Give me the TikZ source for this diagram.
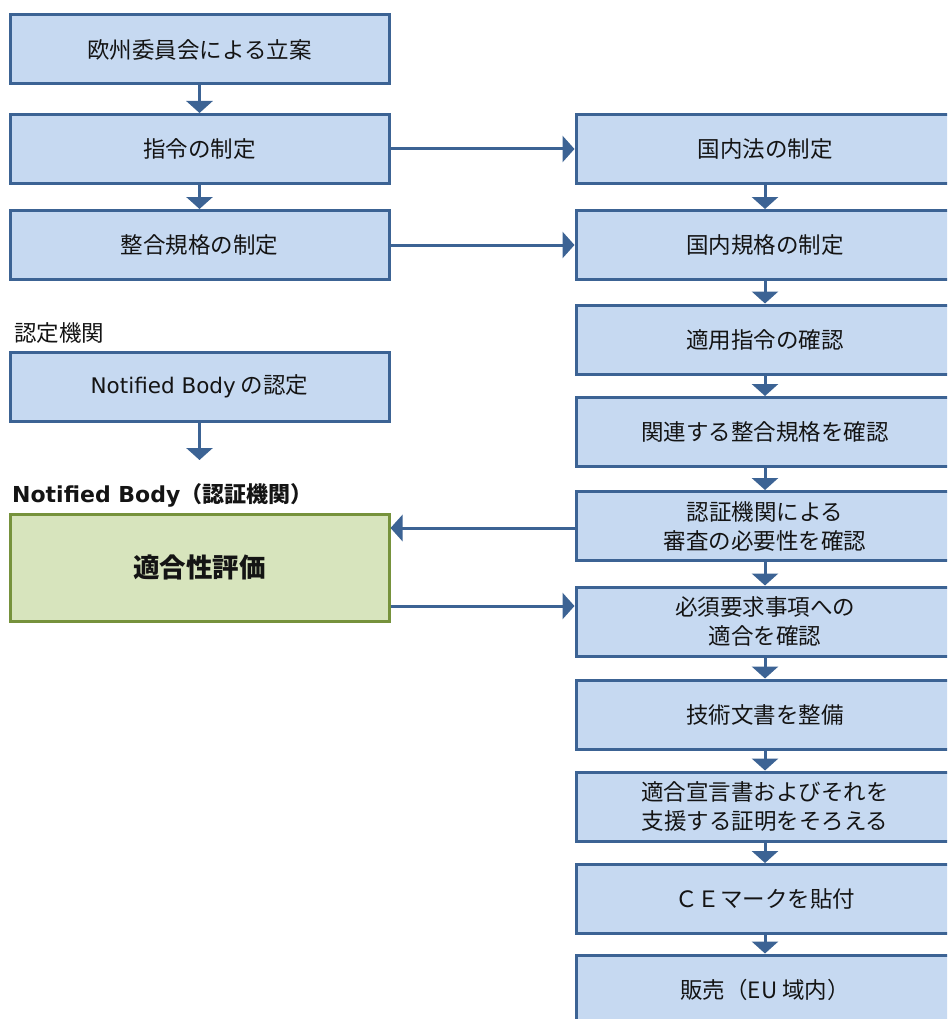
\documentclass[tikz,border=0pt]{standalone}
\usepackage{fontspec}
\setmainfont{Noto Sans CJK JP}
\newfontfamily\latn{DejaVu Sans}
\usetikzlibrary{arrows.meta,calc}
\definecolor{bborder}{RGB}{60,99,148}
\definecolor{bfill}{RGB}{198,217,241}
\definecolor{gborder}{RGB}{118,146,60}
\definecolor{gfill}{RGB}{215,228,189}
\definecolor{txt}{RGB}{20,20,20}
\tikzset{
  box/.style={draw=bborder, fill=bfill, line width=3pt, minimum height=69pt, inner sep=0pt, align=center, text=txt, font=\fontsize{22.5}{29}\selectfont},
  lbox/.style={box, minimum width=379pt},
  rbox/.style={box, minimum width=378pt},
  gbox/.style={box, draw=gborder, fill=gfill, minimum width=379pt, minimum height=107pt, font=\fontsize{26.5}{29}\selectfont\bfseries},
  arr/.style={draw=bborder, line width=3pt, -{Triangle[width=26pt,length=12pt]}},
  lbl/.style={anchor=west, inner sep=0pt, text=txt, font=\fontsize{22.5}{29}\selectfont},
}
\begin{document}
\begin{tikzpicture}[x=1pt,y=-1pt]
\useasboundingbox (0,0) rectangle (947,1019);
\clip (0,0) rectangle (947,1019);
% left column
\node[lbox] (b1) at (199.5,49.5) {欧州委員会による立案};
\node[lbox] (b2) at (199.5,149) {指令の制定};
\node[lbox] (b3) at (199.5,245) {整合規格の制定};
\node[lbl] (l1) at (14,333) {認定機関};
\node[lbox] (b4) at (199.5,386.5) {{\latn\fontsize{21.5}{29}\selectfont Notified Body} の認定};
\coordinate (b4end) at (199.5,460);
\node[lbl, font=\fontsize{22}{29}\selectfont\bfseries] (l2) at (12,495) {{\latn\bfseries Notified Body}（認証機関）};
\node[gbox] (g) at (199.5,567.5) {適合性評価};
% right column
\node[rbox] (r1) at (765,149) {国内法の制定};
\node[rbox] (r2) at (765,245) {国内規格の制定};
\node[rbox] (r3) at (765,339.5) {適用指令の確認};
\node[rbox] (r4) at (765,432) {関連する整合規格を確認};
\node[rbox] (r5) at (765,526) {認証機関による\\審査の必要性を確認};
\node[rbox] (r6) at (765,621.5) {必須要求事項への\\適合を確認};
\node[rbox] (r7) at (765,714.5) {技術文書を整備};
\node[rbox] (r8) at (765,806.5) {適合宣言書およびそれを\\支援する証明をそろえる};
\node[rbox] (r9) at (765,899) {ＣＥマークを貼付};
\node[rbox] (r10) at (765,989.5) {販売（EU 域内）};
% arrows
\draw[arr] (b1.south) -- (b2.north);
\draw[arr] (b2.south) -- (b3.north);
\draw[arr] (b4.south) -- (b4end);
\draw[arr] (b2.east) -- (r1.west);
\draw[arr] (b3.east) -- (r2.west);
\draw[arr] (r1.south) -- (r2.north);
\draw[arr] (r2.south) -- (r3.north);
\draw[arr] (r3.south) -- (r4.north);
\draw[arr] (r4.south) -- (r5.north);
\draw[arr] (r5.south) -- (r6.north);
\draw[arr] (r6.south) -- (r7.north);
\draw[arr] (r7.south) -- (r8.north);
\draw[arr] (r8.south) -- (r9.north);
\draw[arr] (r9.south) -- (r10.north);
\draw[arr] ([yshift=-2pt]r5.west) -- ([yshift=-2pt]r5.west -| g.east);
\draw[arr] ([yshift=-38.5pt]g.east) -- ([yshift=-38.5pt]g.east -| r6.west);
\end{tikzpicture}
\end{document}
